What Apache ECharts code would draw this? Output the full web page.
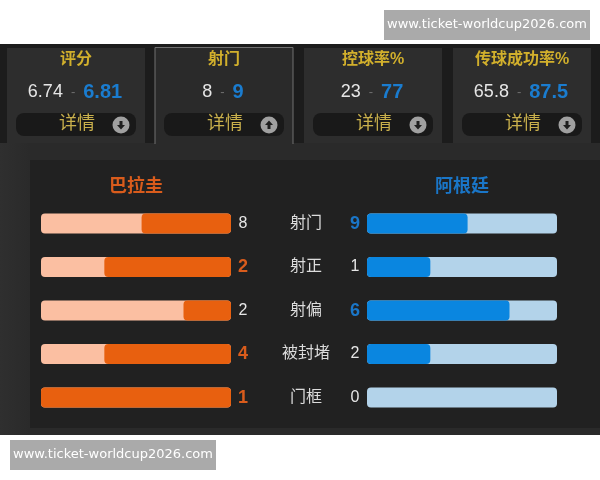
<!DOCTYPE html>
<html>
<head>
<meta charset="utf-8">
<style>html,body{margin:0;padding:0;background:#fff}#chart{width:600px;height:480px}</style>
<script src="https://cdn.jsdelivr.net/npm/echarts@6/dist/echarts.min.js"></script>
</head>
<body>
<div id="chart"></div>
<script>
// Summary cards
const cardTitles = ['评分', '射门', '控球率%', '传球成功率%'];
const cardHome = ['6.74', '8', '23', '65.8'];
const cardAway = ['6.81', '9', '77', '87.5'];
const cardExpanded = [false, true, false, false];

// Shot comparison rows
const teams = ['巴拉圭', '阿根廷'];
const statNames = ['射门', '射正', '射偏', '被封堵', '门框'];
const homeCounts = [8, 2, 2, 4, 1];
const awayCounts = [9, 1, 6, 2, 0];

const siteText = 'www.ticket-worldcup2026.com';

const FONT = '"Liberation Sans","Noto Sans CJK SC",sans-serif';
const ORANGE = '#e8600f', ORANGE_SOFT = '#fbbfa2', BLUE = '#0a86e0', BLUE_SOFT = '#b3d3ea';
const share = (a, b) => (a + b === 0 ? 0 : a / (a + b));
const homeShare = homeCounts.map((v, i) => share(v, awayCounts[i]));
const awayShare = awayCounts.map((v, i) => share(v, homeCounts[i]));

const cardX = [7, 155, 304, 453];
const cardW = 138;
const graphics = [
  { type: 'rect', shape: { x: 0, y: 44, width: 600, height: 391 }, style: { fill: '#1c1c1c' } },
  { type: 'rect', shape: { x: 0, y: 143, width: 600, height: 292 }, style: {
      fill: { type: 'linear', x: 0, y: 0, x2: 1, y2: 0, colorStops: [{ offset: 0, color: '#2f2f2f' }, { offset: 0.05, color: '#2a2a2a' }, { offset: 1, color: '#2a2a2a' }] } } },
  { type: 'rect', shape: { x: 30, y: 160, width: 570, height: 268 }, style: { fill: '#212121' } }
];

cardTitles.forEach((title, i) => {
  const x = cardX[i], cx = x + cardW / 2;
  graphics.push({ type: 'rect', shape: { x, y: 48, width: cardW, height: i === 1 ? 97 : 95 }, style: { fill: i === 1 ? '#2a2a2a' : '#2d2d2d' } });
  if (cardExpanded[i]) {
    graphics.push({ type: 'polyline', shape: { points: [[x, 144], [x, 47.5], [x + cardW, 47.5], [x + cardW, 144]] }, style: { fill: 'none', stroke: '#707070', lineWidth: 1 } });
  }
  graphics.push({ type: 'text', x: cx, y: 60, style: { text: title, fill: '#d2b02c', font: 'bold 16px ' + FONT, align: 'center', verticalAlign: 'middle' } });
  graphics.push({ type: 'text', x: cx - 1, y: 92, style: {
    text: '{h|' + cardHome[i] + '}{d|-}{a|' + cardAway[i] + '}', align: 'center', verticalAlign: 'middle',
    rich: {
      h: { fill: '#e6e6e6', font: '18px ' + FONT },
      d: { fill: '#707070', font: '13px ' + FONT, padding: [0, 8, 0, 8] },
      a: { fill: '#1a7ccf', font: 'bold 20px ' + FONT }
    } } });
  graphics.push({ type: 'rect', shape: { x: x + 9, y: 113, width: 120, height: 23, r: 8 }, style: { fill: '#191919' } });
  graphics.push({ type: 'text', x: x + 70, y: 124, style: { text: '详情', fill: '#c9b04c', font: '18px ' + FONT, align: 'center', verticalAlign: 'middle' } });
  const ix = x + 114, iy = 125, s = cardExpanded[i] ? -1 : 1;
  graphics.push({ type: 'circle', shape: { cx: ix, cy: iy, r: 8.5 }, style: { fill: '#a0a0a0' } });
  graphics.push({ type: 'polygon', shape: { points: [
    [ix - 1.5, iy - 4 * s], [ix + 1.5, iy - 4 * s], [ix + 1.5, iy], [ix + 4, iy], [ix, iy + 4.5 * s], [ix - 4, iy], [ix - 1.5, iy]
  ] }, style: { fill: '#1e1e1e' } });
});

graphics.push(
  { type: 'text', x: 136, y: 187, style: { text: teams[0], fill: '#d95c1c', font: 'bold 18px ' + FONT, align: 'center', verticalAlign: 'middle' } },
  { type: 'text', x: 462, y: 187, style: { text: teams[1], fill: '#1a76c8', font: 'bold 18px ' + FONT, align: 'center', verticalAlign: 'middle' } },
  { type: 'rect', shape: { x: 384, y: 10, width: 206, height: 30 }, style: { fill: '#aaaaaa' } },
  { type: 'text', x: 487, y: 25, style: { text: siteText, fill: '#fff', font: '13px "DejaVu Sans"', align: 'center', verticalAlign: 'middle' } },
  { type: 'rect', shape: { x: 10, y: 440, width: 206, height: 30 }, style: { fill: '#aaaaaa' } },
  { type: 'text', x: 113, y: 455, style: { text: siteText, fill: '#fff', font: '13px "DejaVu Sans"', align: 'center', verticalAlign: 'middle' } }
);

const gridTop = 201.8, gridH = 217.5;
const hiddenX = (gridIndex, inverse) => ({ type: 'value', gridIndex, min: 0, max: 1, inverse, show: false });

// Count labels: the larger count of a row is bold and takes its team colour
const countAxis = (gridIndex, position, mine, other, color) => ({
  type: 'category', gridIndex, position, inverse: true, data: mine.map(String),
  axisLine: { show: false }, axisTick: { show: false },
  axisLabel: {
    margin: 12, align: 'center', width: 20,
    formatter: (v, i) => (mine[i] > other[i] ? '{win|' + v + '}' : '{even|' + v + '}'),
    rich: {
      win: { color, fontSize: 18, fontWeight: 'bold', fontFamily: FONT },
      even: { color: '#e6e6e6', fontSize: 16, fontFamily: FONT }
    }
  }
});

const bars = (axis, track, fill, values) => [
  { type: 'bar', xAxisIndex: axis, yAxisIndex: axis, data: values.map(() => 1), barWidth: 20, barGap: '-100%', silent: true,
    itemStyle: { color: track, borderRadius: 4 } },
  { type: 'bar', xAxisIndex: axis, yAxisIndex: axis, data: values, barWidth: 20, barGap: '-100%',
    itemStyle: { color: fill, borderRadius: 4 } }
];

const chart = echarts.init(document.getElementById('chart'), null, { renderer: 'canvas' });
chart.setOption({
  animation: false,
  backgroundColor: '#fff',
  graphic: { elements: graphics },
  grid: [
    { left: 41, width: 190, top: gridTop, height: gridH },
    { left: 367, width: 190, top: gridTop, height: gridH },
    { left: 305, width: 1, top: gridTop, height: gridH }
  ],
  xAxis: [hiddenX(0, true), hiddenX(1, false), hiddenX(2, false)],
  yAxis: [
    countAxis(0, 'right', homeCounts, awayCounts, '#d95c1c'),
    countAxis(1, 'left', awayCounts, homeCounts, '#1a76c8'),
    {
      type: 'category', gridIndex: 2, inverse: true, data: statNames,
      axisLine: { show: false }, axisTick: { show: false },
      axisLabel: { margin: -1, align: 'center', color: '#dcdcdc', fontSize: 16, fontFamily: FONT }
    }
  ],
  series: [...bars(0, ORANGE_SOFT, ORANGE, homeShare), ...bars(1, BLUE_SOFT, BLUE, awayShare)]
});
</script>
</body>
</html>
